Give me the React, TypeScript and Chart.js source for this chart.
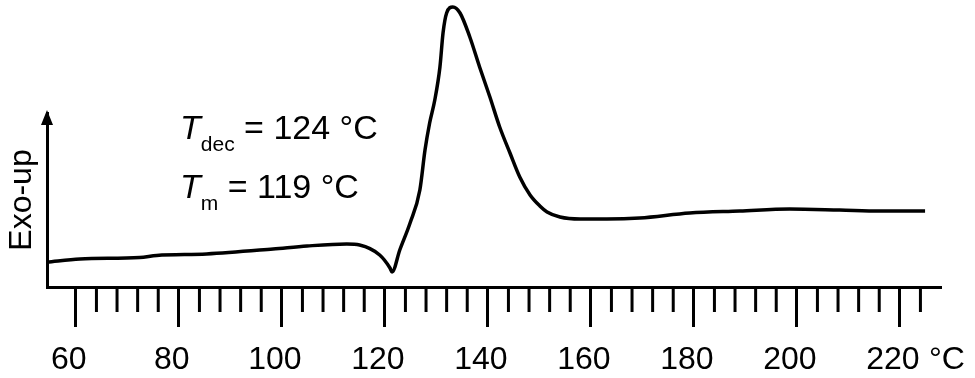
import React, { useEffect, useRef } from "react";
import { Chart, registerables } from "chart.js";

Chart.register(...registerables);

// Temperature (°C) and heat flow (arbitrary units, exo-up)
const temperatureC = [
  54.4, 60.8, 72.4, 75.7, 85.4, 98.3, 104.9, 112.6, 115.1, 119.0, 121.0, 121.4,
  122.9, 124.9, 126.8, 127.8, 128.7, 129.7, 130.7, 131.3, 132.0, 133.2, 134.6,
  136.5, 138.4, 140.4, 142.3, 144.3, 146.2, 148.2, 150.1, 151.5, 154.0, 157.9,
  163.1, 169.5, 179.2, 188.9, 198.6, 208.3, 216.1, 224.9,
];
const heatFlow = [
  25, 28, 29.5, 31.5, 33, 38, 41, 43, 42, 32, 19, 15,
  37, 64, 97, 137, 164, 187, 220, 254, 274, 280, 274,
  250, 220, 190, 160, 134, 110, 92, 81, 75, 70, 68,
  68, 69, 74, 76, 78, 77, 76, 76,
];

const majorTicks = [60, 80, 100, 120, 140, 160, 180, 200, 220];
const minorTicks = [
  64, 68, 72, 76, 84, 88, 92, 96, 104, 108, 112, 116, 124, 128, 132, 136,
  144, 148, 152, 156, 164, 168, 172, 176, 184, 188, 192, 196, 204, 208, 212, 216, 224,
];
const yTitle = "Exo-up";
const xUnit = "°C";
const annotationLines = [
  { symbol: "T", sub: "dec", text: " = 124 °C" },
  { symbol: "T", sub: "m", text: " = 119 °C" },
];

const FONT = '"Liberation Sans", Arial, Helvetica, sans-serif';

export default function App() {
  const ref = useRef<HTMLCanvasElement>(null);

  useEffect(() => {
    if (!ref.current) return;

    const decor = {
      id: "decor",
      afterDraw(chart: any) {
        const { ctx, chartArea, scales } = chart;
        const xs = scales.x;
        ctx.save();
        ctx.strokeStyle = "#000";
        ctx.fillStyle = "#000";
        ctx.lineWidth = 3;
        // minor ticks
        minorTicks.forEach((v) => {
          const x = xs.getPixelForValue(v);
          ctx.beginPath();
          ctx.moveTo(x, chartArea.bottom);
          ctx.lineTo(x, chartArea.bottom + 25);
          ctx.stroke();
        });
        // y-axis arrow head
        ctx.beginPath();
        ctx.moveTo(chartArea.left, chartArea.top - 3);
        ctx.lineTo(chartArea.left - 6, chartArea.top + 12);
        ctx.lineTo(chartArea.left + 6, chartArea.top + 12);
        ctx.closePath();
        ctx.fill();
        // unit label at end of x axis
        ctx.font = `32px ${FONT}`;
        ctx.textBaseline = "middle";
        ctx.textAlign = "left";
        ctx.fillText(xUnit, chartArea.right - 11, chartArea.bottom + 73.5);
        // annotation text
        ctx.textBaseline = "alphabetic";
        const baselines = [139, 198];
        annotationLines.forEach((ln, i) => {
          const y = baselines[i];
          let x = 180;
          ctx.font = `italic 34px ${FONT}`;
          ctx.fillText(ln.symbol, x, y);
          x += ctx.measureText(ln.symbol).width;
          ctx.font = `21px ${FONT}`;
          ctx.fillText(ln.sub, x, y + 12);
          x += ctx.measureText(ln.sub).width;
          ctx.font = `34px ${FONT}`;
          ctx.fillText(ln.text, x, y);
        });
        ctx.restore();
      },
    };

    const chart = new Chart(ref.current, {
      type: "line",
      data: {
        datasets: [
          {
            data: temperatureC.map((t, i) => ({ x: t, y: heatFlow[i] })),
            borderColor: "#000",
            borderWidth: 3.5,
            pointRadius: 0,
            fill: false,
            cubicInterpolationMode: "monotone",
            clip: false as any,
          },
        ],
      },
      options: {
        responsive: false,
        devicePixelRatio: 1,
        animation: false,
        layout: { padding: { top: 113, right: 35, bottom: 0, left: 0 } },
        plugins: { legend: { display: false }, tooltip: { enabled: false } },
        scales: {
          x: {
            type: "linear",
            min: 54.4,
            max: 227.8,
            afterBuildTicks: (s: any) => {
              s.ticks = majorTicks.map((v) => ({ value: v }));
            },
            afterFit: (s: any) => {
              s.height = 91;
            },
            ticks: {
              color: "#000",
              font: { size: 32, family: FONT, lineHeight: 1 },
              padding: 17,
              labelOffset: -7,
              maxRotation: 0,
              autoSkip: false,
              callback: (v: any) => String(v),
            },
            grid: {
              display: true,
              drawOnChartArea: false,
              drawTicks: true,
              tickLength: 40,
              tickWidth: 3,
              tickColor: "#000",
              lineWidth: 3,
              color: "#000",
            },
            border: { display: true, color: "#000", width: 3 },
          },
          y: {
            type: "linear",
            min: 0,
            max: 174,
            ticks: { display: false },
            grid: { display: false, drawTicks: false },
            border: { display: true, color: "#000", width: 3 },
            title: {
              display: true,
              text: yTitle,
              color: "#000",
              font: { size: 32, family: FONT, lineHeight: 1.2 },
              padding: { top: 3, bottom: 5.6 },
            },
          },
        },
      },
      plugins: [decor],
    });

    return () => chart.destroy();
  }, []);

  return (
    <div style={{ position: "absolute", left: 0, top: 0, width: 975, height: 378, background: "#fff" }}>
      <canvas ref={ref} width={975} height={378} style={{ width: 975, height: 378, display: "block" }} />
    </div>
  );
}
